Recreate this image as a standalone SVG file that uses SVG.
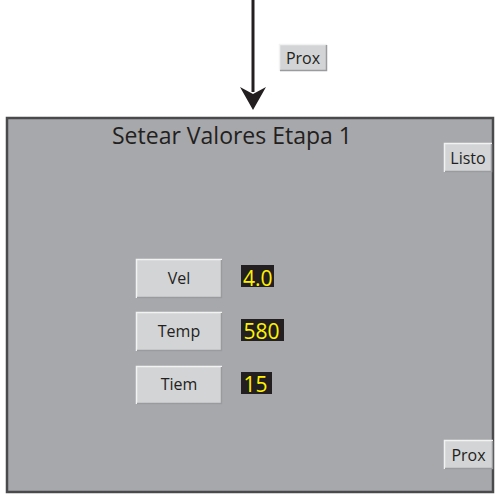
<svg xmlns="http://www.w3.org/2000/svg" width="495" height="495" viewBox="0 0 495 495">
<defs>
<style>
.btn{fill:#d3d4d6;stroke:none}
.hl{stroke:#f2f2f2;stroke-width:1.5;fill:none}
.sh{stroke:#9a9b9e;stroke-width:1.5;fill:none}
.bt{font-family:"Open Sans","Liberation Sans",sans-serif;font-size:16px;fill:#231f20;text-anchor:middle}
.val{fill:#231f20}
.vt{font-family:"Open Sans","Liberation Sans",sans-serif;font-size:21px;fill:#fff200}
</style>
</defs>
<rect width="495" height="495" fill="#fff"/>
<g id="connectors">
<line x1="253" y1="0" x2="253" y2="92" stroke="#231f20" stroke-width="3"/>
<polygon points="240,87 253,94 266,87 253,110" fill="#231f20"/>
</g>
<g id="prox-top">
<rect class="btn" x="279" y="44" width="48" height="27"/>
<path class="hl" d="M279.5,71 V44.5 H327"/>
<path class="sh" d="M280,70.5 H326.5 V45"/>
<text class="bt" x="303" y="63.5">Prox</text>
</g>
<g id="panel">
<rect x="7" y="118" width="486" height="374" fill="#a7a8ab" stroke="#4a4a4c" stroke-width="2.5"/>
<text x="112" y="144" textLength="240" lengthAdjust="spacingAndGlyphs" font-family="'Open Sans','Liberation Sans',sans-serif" font-size="24" fill="#231f20">Setear Valores Etapa 1</text>
</g>
<g id="listo">
<rect class="btn" x="444" y="143" width="48" height="29"/>
<path class="hl" d="M444.5,172 V143.5 H492"/>
<path class="sh" d="M445,171.5 H491.5 V144"/>
<text class="bt" x="468" y="163.5">Listo</text>
</g>
<g id="vel">
<rect class="btn" x="136" y="259" width="86" height="39"/>
<path class="hl" d="M136.5,298 V259.5 H222"/>
<path class="sh" d="M137,297.5 H221.5 V260"/>
<text class="bt" x="179" y="284">Vel</text>
</g>
<g id="vel-val">
<rect class="val" x="241" y="265" width="33" height="22"/>
<text class="vt" x="243" y="285.5">4.0</text>
</g>
<g id="temp">
<rect class="btn" x="136" y="312" width="86" height="39"/>
<path class="hl" d="M136.5,351 V312.5 H222"/>
<path class="sh" d="M137,350.5 H221.5 V313"/>
<text class="bt" x="179" y="337">Temp</text>
</g>
<g id="temp-val">
<rect class="val" x="241" y="319" width="43" height="22"/>
<text class="vt" x="243.5" y="339">580</text>
</g>
<g id="tiem">
<rect class="btn" x="136" y="366" width="86" height="38"/>
<path class="hl" d="M136.5,404 V366.5 H222"/>
<path class="sh" d="M137,403.5 H221.5 V367"/>
<text class="bt" x="179" y="390">Tiem</text>
</g>
<g id="tiem-val">
<rect class="val" x="241" y="372" width="31" height="22"/>
<text class="vt" x="243.5" y="392">15</text>
</g>
<g id="prox-bottom">
<rect class="btn" x="444" y="440" width="49" height="29"/>
<path class="hl" d="M444.5,469 V440.5 H493"/>
<path class="sh" d="M445,468.5 H492.5 V441"/>
<text class="bt" x="468.5" y="460.5">Prox</text>
</g>
</svg>
